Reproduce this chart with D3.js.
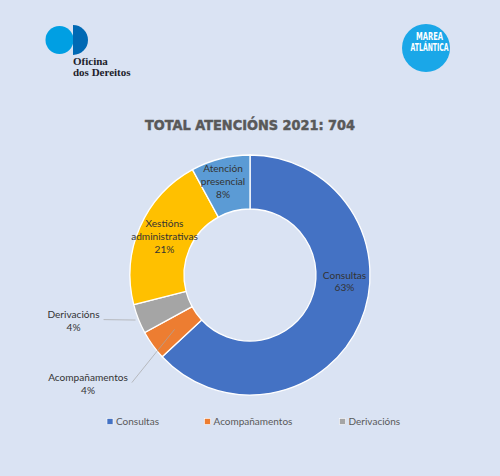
<!DOCTYPE html>
<html lang="gl">
<head>
  <meta charset="UTF-8">
  <title>Total atencións 2021</title>
  <script src="https://d3js.org/d3.v7.min.js"></script>
  <style>
    body { margin: 0; background: #dae3f3; }
    svg { display: block; }
    .lbl { font-family: Lato, sans-serif; font-size: 10.1px; fill: #333; }
    .legend text { font-family: Lato, sans-serif; font-size: 10px; fill: #595959; }
  </style>
</head>
<body>
  <div id="chart"></div>
  <script>
    // data (total 704)
    const categories = ["Consultas", "Acompañamentos", "Derivacións", "Xestións administrativas", "Atención presencial"];
    const values = [444, 28, 28, 148, 56];
    const percentLabels = ["63%", "4%", "4%", "21%", "8%"];
    const legendItems = ["Consultas", "Acompañamentos", "Derivacións"];
    const colors = ["#4472c4", "#ed7d31", "#a5a5a5", "#ffc000", "#5b9bd5"];

    const width = 500, height = 476;
    const cx = 250, cy = 275, outerR = 120, innerR = 66;

    const svg = d3.select("#chart").append("svg")
      .attr("width", width)
      .attr("height", height);

    svg.append("rect").attr("width", width).attr("height", height).attr("fill", "#dae3f3");

    // Oficina dos Dereitos logo
    const logo1 = svg.append("g");
    logo1.append("circle").attr("cx", 59.5).attr("cy", 40).attr("r", 14).attr("fill", "#009fe3");
    logo1.append("path")
      .attr("d", d3.arc()({ innerRadius: 0, outerRadius: 15, startAngle: 0, endAngle: Math.PI }))
      .attr("transform", "translate(73,40)")
      .attr("fill", "#0069b4");
    logo1.append("text")
      .style("font-family", "'Liberation Serif', serif").style("font-size", "11px")
      .style("font-weight", "bold").attr("fill", "#1d1d2b")
      .selectAll("tspan").data(["Oficina", "dos Dereitos"]).join("tspan")
      .attr("x", 73).attr("y", (d, i) => 65 + i * 11).text(d => d);

    // Marea Atlántica logo
    const logo2 = svg.append("g");
    logo2.append("circle").attr("cx", 426).attr("cy", 48).attr("r", 24).attr("fill", "#1aa7e8");
    logo2.append("text")
      .attr("text-anchor", "middle")
      .style("font-family", "'DejaVu Sans', sans-serif")
      .style("font-size", "10.5px").style("font-weight", "bold")
      .attr("fill", "#fff")
      .selectAll("tspan").data(["MAREA", "ATLÁNTICA"]).join("tspan")
      .attr("x", 429.5).attr("y", (d, i) => 39.5 + i * 11.3)
      .attr("textLength", (d, i) => i ? 38 : 27)
      .attr("lengthAdjust", "spacingAndGlyphs")
      .text(d => d);

    // title
    svg.append("text")
      .attr("x", 250).attr("y", 130)
      .attr("text-anchor", "middle")
      .attr("textLength", 210)
      .attr("lengthAdjust", "spacingAndGlyphs")
      .style("font-family", "'DejaVu Sans', sans-serif")
      .style("font-size", "14px").style("font-weight", "bold")
      .attr("fill", "#595959")
      .attr("stroke", "#595959").attr("stroke-width", 0.5)
      .text("TOTAL ATENCIÓNS 2021: 704");

    // donut
    const pie = d3.pie().sort(null).value(d => d);
    const arc = d3.arc().innerRadius(innerR).outerRadius(outerR);
    const arcs = pie(values);

    const g = svg.append("g").attr("transform", `translate(${cx},${cy})`);
    g.selectAll("path").data(arcs).join("path")
      .attr("d", arc)
      .attr("fill", (d, i) => colors[i])
      .attr("stroke", "#fff")
      .attr("stroke-width", 1.3);

    // label placement (offsets from the centre, Excel best-fit style)
    const labelAt = [
      { x: 94.5, y: 6.5 },
      { x: -162, y: 109, leadR: 93 },
      { x: -176.5, y: 46, leadR: 123 },
      { x: -85.5, y: -38.5 },
      { x: -27, y: -93.5 }
    ];

    function wrap(name) {
      if (name === "Xestións administrativas") return ["Xestións", "administrativas"];
      if (name === "Atención presencial") return ["Atención", "presencial"];
      return [name];
    }

    arcs.forEach((a, i) => {
      const p = labelAt[i];
      const lines = wrap(categories[i]).concat(percentLabels[i]);
      const lh = 12.8;
      const top = p.y - (lines.length - 1) * lh / 2;
      const t = g.append("text").attr("class", "lbl")
        .attr("text-anchor", "middle");
      t.selectAll("tspan").data(lines).join("tspan")
        .attr("x", p.x)
        .attr("y", (d, k) => top + k * lh + 3.5)
        .text(d => d);
      if (p.leadR) {
        const w = t.select("tspan").node().getComputedTextLength();
        const mid = (a.startAngle + a.endAngle) / 2;
        const ex = Math.sin(mid) * p.leadR, ey = -Math.cos(mid) * p.leadR;
        const sx = p.x + w / 2 + 4, sy = top + 3.5 + 1.5;
        g.insert("line", "text")
          .attr("x1", sx).attr("y1", sy).attr("x2", ex).attr("y2", ey)
          .attr("stroke", "#a6a6a6").attr("stroke-width", 0.7);
      }
    });

    // legend
    const legendX = d3.scaleOrdinal().domain(legendItems).range([110, 207.5, 342.5]);
    const legend = svg.append("g").attr("class", "legend");
    const li = legend.selectAll("g").data(legendItems).join("g")
      .attr("transform", d => `translate(${legendX(d)},421.5)`);
    li.append("rect").attr("x", -3).attr("y", -3).attr("width", 6).attr("height", 6)
      .attr("fill", d => colors[categories.indexOf(d)])
      .attr("stroke", "#fff").attr("stroke-width", 0.6);
    li.append("text").attr("x", 6).attr("y", 3.6).text(d => d);
  </script>
</body>
</html>
